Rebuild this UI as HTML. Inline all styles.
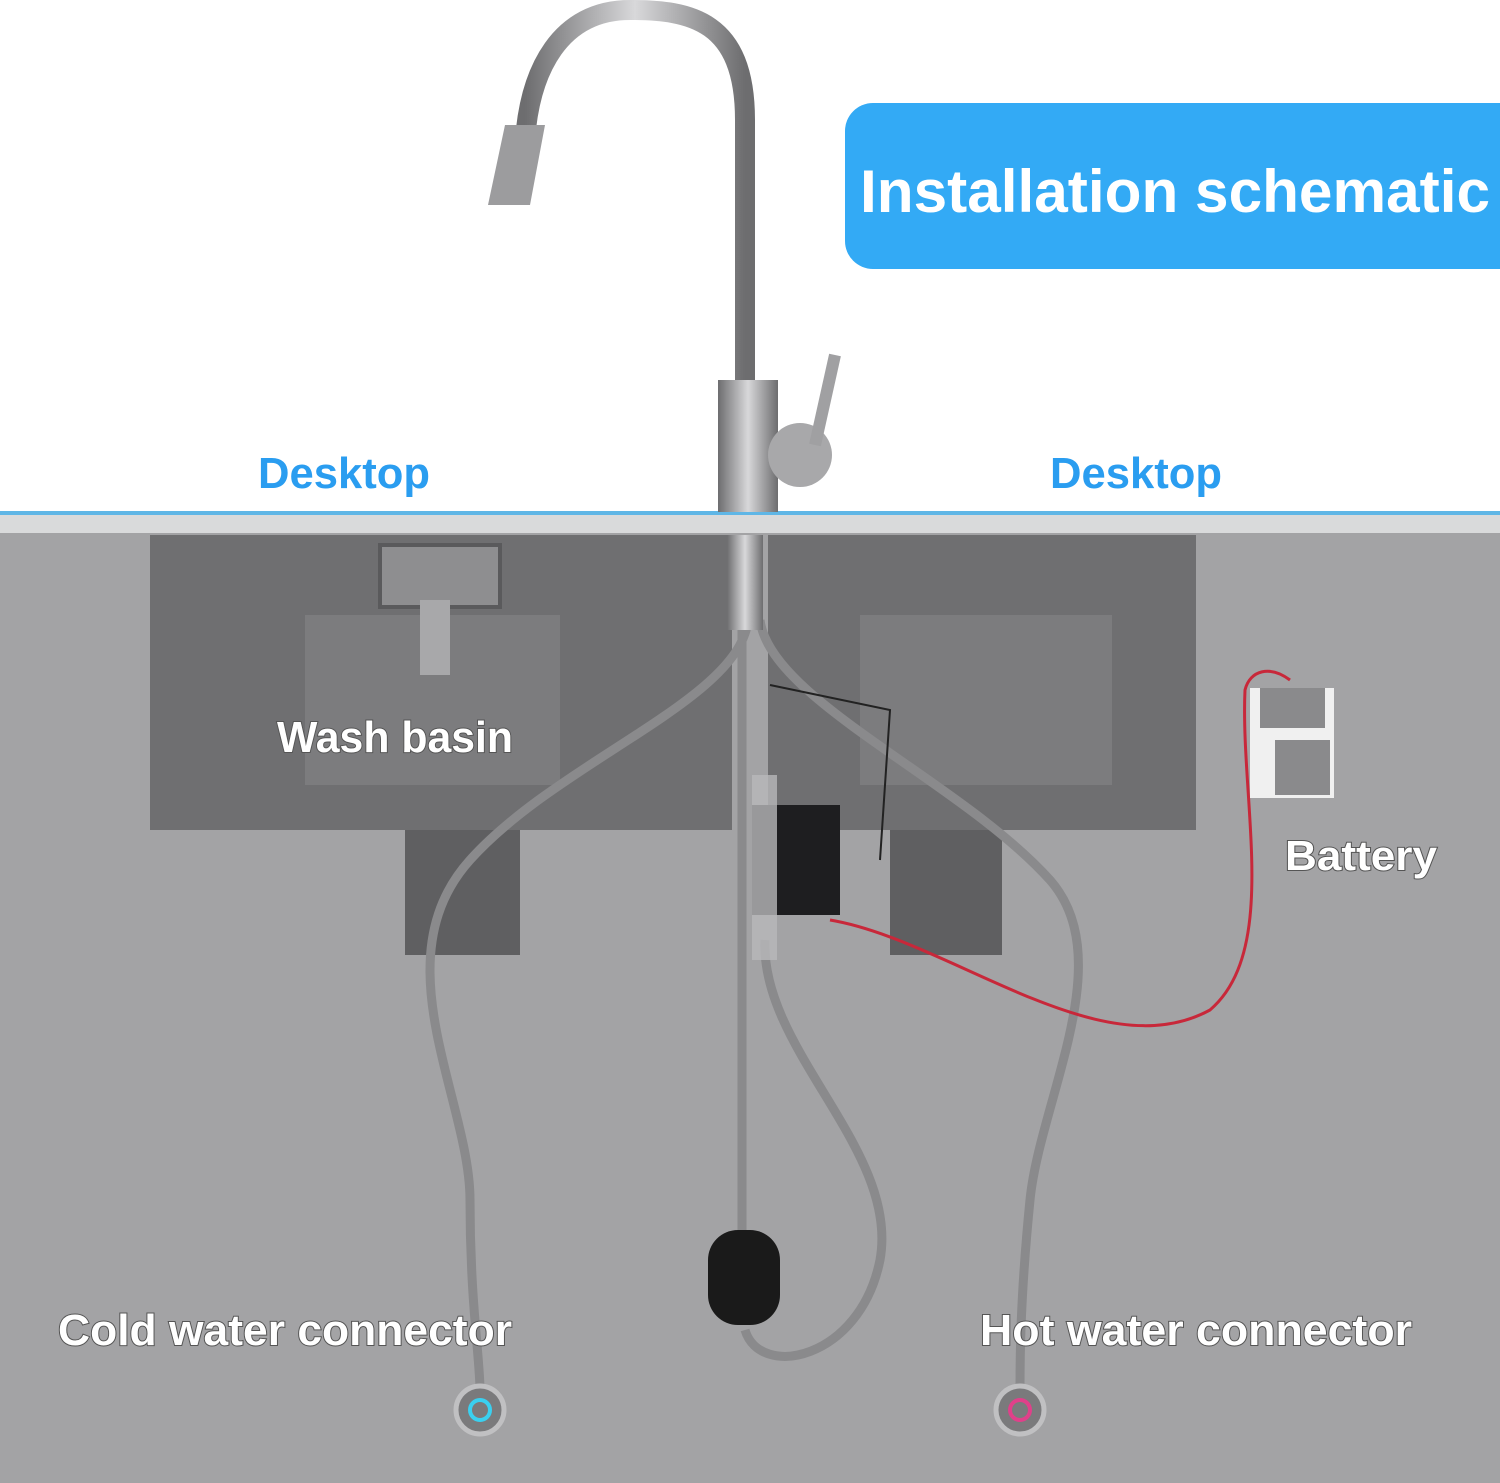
<!DOCTYPE html>
<html><head><meta charset="utf-8"><style>
html,body{margin:0;padding:0;width:1500px;height:1483px;overflow:hidden;background:#fff}
svg{display:block}
text{font-family:"Liberation Sans",sans-serif;font-weight:bold}
</style></head><body>
<svg width="1500" height="1483" viewBox="0 0 1500 1483" xmlns="http://www.w3.org/2000/svg">
<defs>
<linearGradient id="steel" x1="0" x2="1"><stop offset="0" stop-color="#6d6d6f"/><stop offset=".5" stop-color="#d8d8da"/><stop offset="1" stop-color="#6d6d6f"/></linearGradient>
</defs>
<rect x="0" y="0" width="1500" height="512" fill="#fff"/>
<rect x="0" y="518" width="1500" height="965" fill="#a3a3a5"/>
<rect x="0" y="511" width="1500" height="4" fill="#5fb6e6"/>
<rect x="0" y="515" width="1500" height="18" fill="#d9dadb"/>
<rect x="845" y="103" width="700" height="166" rx="28" fill="#33aaf5"/>
<text x="860" y="212" font-size="60" fill="#fff" textLength="630" lengthAdjust="spacingAndGlyphs">Installation schematic</text>
<text x="258" y="488" font-size="44" fill="#2a9df0" textLength="172" lengthAdjust="spacingAndGlyphs">Desktop</text>
<text x="1050" y="488" font-size="44" fill="#2a9df0" textLength="172" lengthAdjust="spacingAndGlyphs">Desktop</text>
<rect x="150" y="535" width="582" height="295" fill="#6f6f71"/>
<rect x="768" y="535" width="428" height="295" fill="#6f6f71"/>
<rect x="305" y="615" width="255" height="170" fill="#7c7c7e"/>
<rect x="860" y="615" width="252" height="170" fill="#7c7c7e"/>
<rect x="380" y="545" width="120" height="62" fill="#8e8e90" stroke="#5a5a5c" stroke-width="4"/>
<rect x="420" y="600" width="30" height="75" fill="#a8a8aa"/>
<rect x="405" y="830" width="115" height="125" fill="#5f5f61"/>
<rect x="890" y="830" width="112" height="125" fill="#5f5f61"/>
<g fill="none" stroke="#8a8a8c" stroke-width="9">
<path d="M748 620 C740 700 560 760 470 860 C380 960 470 1100 470 1200 C470 1300 480 1360 480 1390"/>
<path d="M760 620 C770 700 960 780 1050 880 C1120 960 1040 1100 1030 1200 C1020 1300 1020 1360 1020 1390"/>
<path d="M765 940 C760 1050 900 1150 880 1260 C860 1360 760 1380 745 1330"/>
<path d="M742 540 L742 1230"/>
</g>
<path d="M770 685 L890 710 L880 860" fill="none" stroke="#222" stroke-width="2"/>
<path d="M830 920 C950 940 1100 1070 1210 1010 C1280 950 1240 800 1245 690 C1250 670 1270 665 1290 680" fill="none" stroke="#c8283a" stroke-width="3"/>
<rect x="752" y="805" width="88" height="110" fill="#1e1e20"/>
<rect x="752" y="775" width="25" height="185" fill="#b8b8ba" opacity=".8"/>
<rect x="708" y="1230" width="72" height="95" rx="30" fill="#1a1a1a"/>
<rect x="1250" y="688" width="84" height="110" fill="#f0f0f0"/>
<rect x="1260" y="688" width="65" height="40" fill="#8a8a8c"/>
<rect x="1275" y="740" width="55" height="55" fill="#8a8a8c"/>
<circle cx="480" cy="1410" r="24" fill="#7a7a7c" stroke="#c0c0c2" stroke-width="5"/>
<circle cx="480" cy="1410" r="10" fill="none" stroke="#3ad0f0" stroke-width="4"/>
<circle cx="1020" cy="1410" r="24" fill="#7a7a7c" stroke="#c0c0c2" stroke-width="5"/>
<circle cx="1020" cy="1410" r="10" fill="none" stroke="#e0408a" stroke-width="4"/>
<path d="M745 400 L745 120 C745 20 690 10 630 10 C560 10 530 70 525 140" fill="none" stroke="url(#steel)" stroke-width="20"/>
<path d="M505 125 L545 125 L530 205 L488 205 Z" fill="#9c9c9e"/>
<rect x="718" y="380" width="60" height="132" fill="url(#steel)"/>
<circle cx="800" cy="455" r="32" fill="#a8a8aa"/>
<line x1="815" y1="445" x2="835" y2="355" stroke="#a0a0a2" stroke-width="12"/>
<rect x="727" y="535" width="36" height="95" fill="url(#steel)"/>
<g fill="#fff" style="paint-order:stroke" stroke="#555" stroke-width="2">
<text x="277" y="752" font-size="44" textLength="236" lengthAdjust="spacingAndGlyphs">Wash basin</text>
<text x="1285" y="870" font-size="42" textLength="152" lengthAdjust="spacingAndGlyphs">Battery</text>
<text x="58" y="1345" font-size="44" textLength="454" lengthAdjust="spacingAndGlyphs">Cold water connector</text>
<text x="980" y="1345" font-size="44" textLength="432" lengthAdjust="spacingAndGlyphs">Hot water connector</text>
</g>
</svg>
</body></html>
